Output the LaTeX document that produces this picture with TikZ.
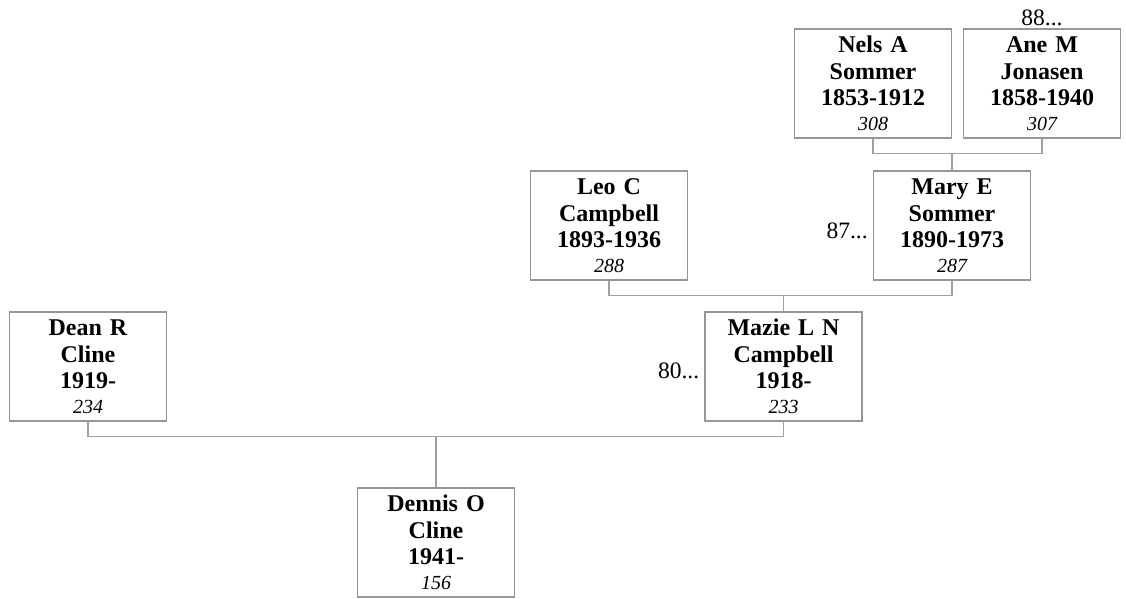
\documentclass[tikz,border=0pt]{standalone}
\usepackage{fontspec}
\setmainfont{Liberation Serif}
\usepackage{tikz}
\usetikzlibrary{positioning,calc}
\usepackage{xcolor}
\definecolor{boxgray}{RGB}{150,150,150}
\definecolor{linegray}{RGB}{160,160,160}

\newcommand{\pers}[4]{#1\\#2\\#3\\[-2pt]{\fontsize{20}{24}\selectfont\mdseries\itshape #4}}

\begin{document}
\begin{tikzpicture}[x=1pt, y=-1pt, every node/.style={align=center}, person/.style={rectangle,draw=boxgray,line width=1.3pt,fill=white,minimum width=157pt,minimum height=109pt,inner sep=0pt,text width=155pt,font=\fontsize{24}{26.5}\selectfont\bfseries}, link/.style={draw=linegray,line width=1.1pt}, more/.style={font=\fontsize{23.5}{26}\selectfont,inner sep=1pt}]
  \useasboundingbox (0,0) rectangle (1126,599);
  \node[person] (nels) at (873,83.5) {\pers{Nels A}{Sommer}{1853-1912}{308}};
  \node[person] (ane) at (1042,83.5) {\pers{Ane M}{Jonasen}{1858-1940}{307}};
  \node[person] (leo) at (609,225.5) {\pers{Leo C}{Campbell}{1893-1936}{288}};
  \node[person] (mary) at (952,225.5) {\pers{Mary E}{Sommer}{1890-1973}{287}};
  \node[person] (dean) at (88,366.5) {\pers{Dean R}{Cline}{1919-}{234}};
  \node[person] (mazie) at (783.5,366.5) {\pers{Mazie L N}{Campbell}{1918-}{233}};
  \node[person] (dennis) at (436,542.5) {\pers{Dennis O}{Cline}{1941-}{156}};
  \node[more,above=1pt of ane] (aneup) {88...};
  \node[more,left=4pt of mary,yshift=-5pt] (maryup) {87...};
  \node[more,left=4pt of mazie,yshift=-4pt] (mazieup) {80...};
  \coordinate (j1) at ($(mary.north)+(0,-17)$);
  \coordinate (j2) at ($(mazie.north)+(0,-16)$);
  \coordinate (j3) at ($(dennis.north)+(0,-51)$);
  \draw[link] (nels.south) |- (j1) -| (ane.south); \draw[link] (j1)--(mary.north);
  \draw[link] (leo.south) |- (j2) -| (mary.south); \draw[link] (j2)--(mazie.north);
  \draw[link] (dean.south) |- (j3) -| (mazie.south); \draw[link] (j3)--(dennis.north);
\end{tikzpicture}
\end{document}
